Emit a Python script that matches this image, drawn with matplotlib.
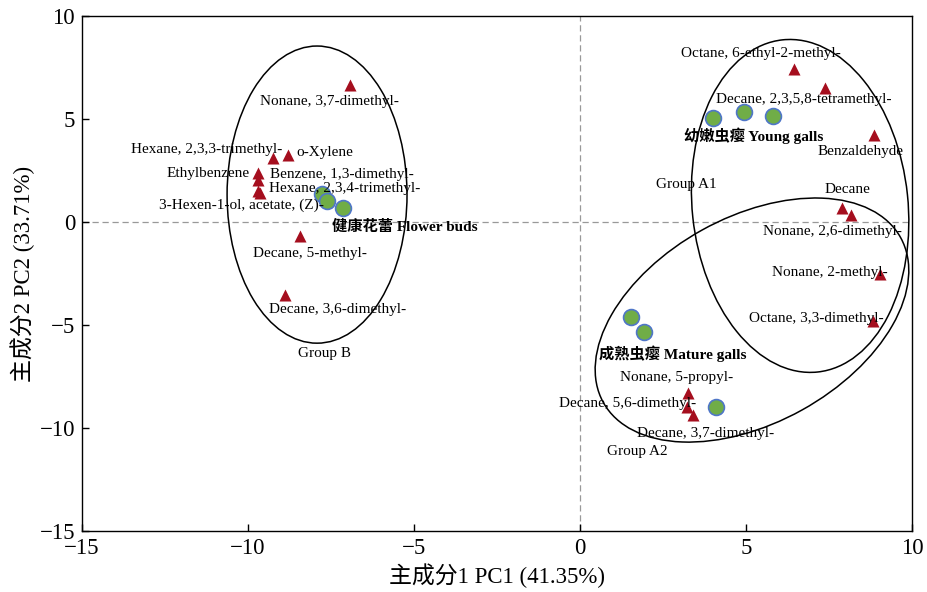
import matplotlib
matplotlib.use("Agg")
import matplotlib.pyplot as plt
from matplotlib.patches import Ellipse
from matplotlib.transforms import Affine2D

plt.rcParams['font.family'] = ['Liberation Serif', 'Noto Sans CJK SC']
plt.rcParams['axes.unicode_minus'] = True

# volatile compounds (loadings)
comp_names = ["Nonane, 3,7-dimethyl-", "Hexane, 2,3,3-trimethyl-", "o-Xylene", "Ethylbenzene",
              "Benzene, 1,3-dimethyl-", "Hexane, 2,3,4-trimethyl-", "3-Hexen-1-ol, acetate, (Z)-",
              "Decane, 5-methyl-", "Decane, 3,6-dimethyl-",
              "Octane, 6-ethyl-2-methyl-", "Decane, 2,3,5,8-tetramethyl-", "Benzaldehyde", "Decane",
              "Nonane, 2,6-dimethyl-", "Nonane, 2-methyl-", "Octane, 3,3-dimethyl-",
              "Nonane, 5-propyl-", "Decane, 5,6-dimethyl-", "Decane, 3,7-dimethyl-"]
comp_pc1 = [-6.93, -9.25, -8.80, -9.70, -9.70, -9.70, -9.65, -8.43, -8.90,
            6.46, 7.38, 8.87, 7.90, 8.15, 9.04, 8.83, 3.24, 3.21, 3.41]
comp_pc2 = [6.65, 3.10, 3.25, 2.38, 2.04, 1.50, 1.40, -0.68, -3.54,
            7.43, 6.49, 4.22, 0.66, 0.34, -2.52, -4.79, -8.32, -8.97, -9.37]

# samples (scores)
sample_pc1 = [-7.77, -7.62, -7.14, 4.02, 4.94, 5.80, 1.54, 1.94, 4.09]
sample_pc2 = [1.36, 1.02, 0.68, 5.06, 5.32, 5.16, -4.60, -5.32, -8.97]

# label placement (offset pixels, alignment)
label_off = [(-20, -16, 'center'), (9, 9, 'right'), (9, 3, 'left'), (-8, -1, 'right'),
             (12, 5, 'left'), (11, 3, 'left'), (64, -12, 'right'), (10, -17, 'center'),
             (53, -15, 'center'),
             (-34, 15, 'center'), (-21, -11, 'center'), (-14, -16, 'center'), (5, 19, 'center'),
             (-18, -17, 'center'), (7, 1, 'right'), (10, 2, 'right'),
             (-11, 16, 'center'), (10, 3, 'right'), (12, -18, 'center')]

group_names = ["健康花蕾 Flower buds", "幼嫩虫瘿 Young galls", "成熟虫瘿 Mature galls"]
group_pos = [(-7.47, -0.24, 'left'), (5.24, 4.17, 'center'), (2.80, -6.41, 'center')]

ell_names = ["Group B", "Group A1", "Group A2"]
ell_label_pos = [(-7.71, -6.36), (3.19, 1.84), (1.72, -11.12)]
# center x, center y, width, height (x-units), angle
ell_cx = [-7.92, 6.63, 5.18]
ell_cy = [1.33, 0.78, -4.76]
ell_w = [5.42, 10.06, 10.24]
ell_h = [8.95, 6.50, 6.20]
ell_ang = [0, 96, 29]

fig = plt.figure(figsize=(9.27, 5.92), dpi=100)
ax = fig.add_axes([82 / 927, 1 - 531 / 592, 830 / 927, 515 / 592])
ax.set_xlim(-15, 10)
ax.set_ylim(-15, 10)

ax.axhline(0, color='#999999', ls='--', lw=0.9, dashes=(5, 3), zorder=1)
ax.axvline(0, color='#999999', ls='--', lw=0.9, dashes=(5, 3), zorder=1)

# ellipses drawn in a space where x and y units look the same on screen
ratio = 830 / 515
iso = Affine2D().scale(1, ratio) + ax.transData
for cx, cy, w, h, a in zip(ell_cx, ell_cy, ell_w, ell_h, ell_ang):
    e = Ellipse((cx, cy / ratio), w, h, angle=a, fill=False, ec='black', lw=1.1,
                transform=iso, zorder=2)
    ax.add_patch(e)

ax.scatter(comp_pc1, comp_pc2, marker='^', s=75, color='#A50E1E', zorder=3, lw=0)
ax.scatter(sample_pc1, sample_pc2, marker='o', s=130, color='#70AD47', ec='#4F76C8',
           lw=1.2, zorder=4)

for name, x, y, (dx, dy, ha) in zip(comp_names, comp_pc1, comp_pc2, label_off):
    ax.annotate(name, (x, y), xytext=(dx, dy), textcoords='offset pixels',
                ha=ha, va='center', fontsize=11, zorder=5)

for name, (x, y, ha) in zip(group_names, group_pos):
    ax.text(x, y, name, ha=ha, va='center', fontsize=11, fontweight='bold', zorder=5)

for name, (x, y) in zip(ell_names, ell_label_pos):
    ax.text(x, y, name, ha='center', va='center', fontsize=11, zorder=5)

ax.set_xticks([-15, -10, -5, 0, 5, 10])
ax.set_yticks([-15, -10, -5, 0, 5, 10])
ax.tick_params(direction='in', length=5, width=1, labelsize=16.5, pad=5)
for s in ax.spines.values():
    s.set_linewidth(1)
ax.set_xlabel('主成分1 PC1 (41.35%)', fontsize=16.5, labelpad=3)
ax.set_ylabel('主成分2 PC2 (33.71%)', fontsize=16.5, labelpad=3)

fig.savefig('out.png', dpi=100)
